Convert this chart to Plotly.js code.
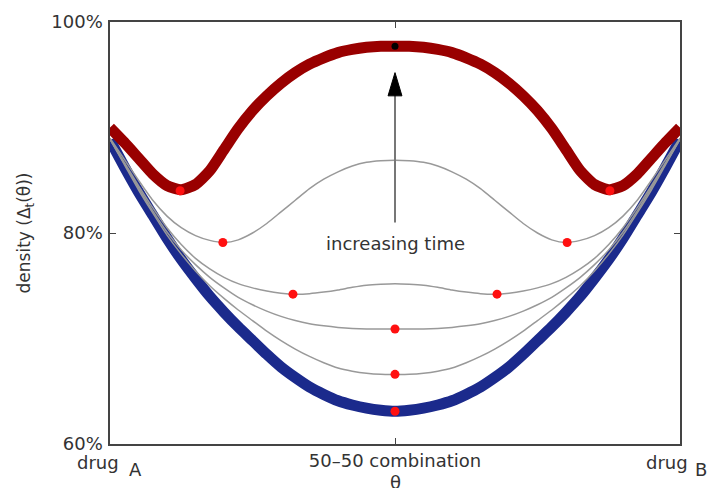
<!DOCTYPE html>
<html>
<head>
<meta charset="utf-8">
<script src="https://cdn.plot.ly/plotly-3.0.1.min.js"></script>
<style>html,body{margin:0;padding:0;background:#fff;}#chart{width:711px;height:488px;}</style>
</head>
<body>
<div id="chart"></div>
<script>
// theta positions (0 = drug A, 0.5 = 50-50 combination, 1 = drug B)
var theta = [0,0.025,0.05,0.075,0.1,0.125,0.15,0.175,0.2,0.225,0.25,0.275,0.3,0.325,0.35,0.375,0.4,0.425,0.45,0.475,0.5,
             0.525,0.55,0.575,0.6,0.625,0.65,0.675,0.7,0.725,0.75,0.775,0.8,0.825,0.85,0.875,0.9,0.925,0.95,0.975,1];

// density curves (%)
var blueInitial = [88.8,86.3,83.9,81.7,79.5,77.5,75.7,74.0,72.5,71.1,69.8,68.5,67.3,66.3,65.4,64.7,64.1,63.7,63.4,63.2,63.1,
                   63.2,63.4,63.7,64.1,64.7,65.4,66.3,67.3,68.5,69.8,71.1,72.5,74.0,75.7,77.5,79.5,81.7,83.9,86.3,88.8];
var gray4 = [88.9,86.5,84.1,81.9,79.8,78.0,76.4,75.0,73.8,72.7,71.7,70.7,69.8,69.0,68.3,67.7,67.2,66.9,66.7,66.6,66.6,
             66.6,66.7,66.9,67.2,67.7,68.3,69.0,69.8,70.7,71.7,72.7,73.8,75.0,76.4,78.0,79.8,81.9,84.1,86.5,88.9];
var gray3 = [88.9,86.6,84.3,82.1,80.1,78.4,77.0,75.8,74.8,73.9,73.2,72.6,72.1,71.7,71.4,71.2,71.05,70.95,70.9,70.9,70.9,
             70.9,70.9,70.95,71.05,71.2,71.4,71.7,72.1,72.6,73.2,73.9,74.8,75.8,77.0,78.4,80.1,82.1,84.3,86.6,88.9];
var gray2 = [88.9,86.7,84.5,82.4,80.5,78.9,77.6,76.6,75.8,75.2,74.8,74.5,74.3,74.2,74.25,74.4,74.6,74.85,75.05,75.15,75.2,
             75.15,75.05,74.85,74.6,74.4,74.25,74.2,74.3,74.5,74.8,75.2,75.8,76.6,77.6,78.9,80.5,82.4,84.5,86.7,88.9];
var gray1 = [89.0,87.0,85.0,83.1,81.6,80.5,79.75,79.3,79.1,79.35,80.0,80.9,82.0,83.1,84.2,85.1,85.8,86.35,86.7,86.85,86.9,
             86.85,86.7,86.35,85.8,85.1,84.2,83.1,82.0,80.9,80.0,79.35,79.1,79.3,79.75,80.5,81.6,83.1,85.0,87.0,89.0];
var redFinal = [90.0,88.6,87.1,85.6,84.5,84.1,84.6,85.9,87.9,89.9,91.6,93.0,94.2,95.2,96.0,96.6,97.1,97.4,97.6,97.7,97.7,
                97.7,97.6,97.4,97.1,96.6,96.0,95.2,94.2,93.0,91.6,89.9,87.9,85.9,84.6,84.1,84.5,85.6,87.1,88.6,90.0];

// minima markers (red) and final maximum (black)
var minTheta = [0.123,0.877,0.198,0.802,0.321,0.679,0.5,0.5,0.5];
var minDensity = [84.0,84.0,79.1,79.1,74.2,74.2,70.9,66.6,63.1];
var maxTheta = [0.5];
var maxDensity = [97.7];

// axis ticks
var yTicks = [60,80,100];
var yTickText = ['60%','80%','100%'];
var xTicks = [0.5];
var xTickText = ['50\u201350 combination'];

var FONT = 'DejaVu Sans, Liberation Sans, Arial, sans-serif';
var grayLine = {color:'#999', width:1.5, shape:'spline', smoothing:0.6};
var traces = [
  {x:theta, y:blueInitial, mode:'lines', line:{color:'#1b2a8c', width:11, shape:'spline', smoothing:0.6}, hoverinfo:'skip'},
  {x:theta, y:gray4, mode:'lines', line:grayLine, hoverinfo:'skip'},
  {x:theta, y:gray3, mode:'lines', line:grayLine, hoverinfo:'skip'},
  {x:theta, y:gray2, mode:'lines', line:grayLine, hoverinfo:'skip'},
  {x:theta, y:gray1, mode:'lines', line:grayLine, hoverinfo:'skip'},
  {x:theta, y:redFinal, mode:'lines', line:{color:'#990000', width:11, shape:'spline', smoothing:0.6}, hoverinfo:'skip'},
  {x:minTheta, y:minDensity, mode:'markers', marker:{color:'#ff1010', size:9}, hoverinfo:'skip'},
  {x:maxTheta, y:maxDensity, mode:'markers', marker:{color:'#000', size:7}, hoverinfo:'skip'}
];

var txtFont = {family:FONT, size:18, color:'#333'};
var layout = {
  width:711, height:488,
  margin:{l:110, r:31, t:22, b:44},
  paper_bgcolor:'#fff', plot_bgcolor:'#fff',
  showlegend:false,
  xaxis:{range:[0,1], tickvals:xTicks, ticktext:xTickText, ticks:'inside', ticklen:6, tickcolor:'#444',
         showline:true, linecolor:'#444', linewidth:1.6, mirror:'ticks', showgrid:false, zeroline:false,
         tickfont:txtFont, fixedrange:true},
  yaxis:{range:[60,100], tickvals:yTicks, ticktext:yTickText, ticks:'inside', ticklen:6, tickcolor:'#444',
         showline:true, linecolor:'#444', linewidth:1.6, mirror:'ticks', showgrid:false, zeroline:false,
         tickfont:txtFont, ticklabelstandoff:2,
         title:{text:'density (\u0394<sub>t</sub>(\u03b8))', font:{family:FONT, size:17, color:'#333'}, standoff:16},
         fixedrange:true},
  shapes:[
    {type:'line', xref:'x', yref:'y', x0:0.5, x1:0.5, y0:81.0, y1:93.2, line:{color:'#777', width:2}},
    {type:'path', xref:'x', yref:'y', path:'M0.4878,93.0 L0.5,95.2 L0.5122,93.0 Z', fillcolor:'#000', line:{color:'#000', width:1}}
  ],
  annotations:[
    {x:0.5, y:79.0, xref:'x', yref:'y', text:'increasing time', showarrow:false, font:txtFont},
    {x:0, y:0, xref:'x', yref:'paper', text:'drug', showarrow:false, xanchor:'right', yanchor:'middle', xshift:11, yshift:-18, font:txtFont},
    {x:0, y:0, xref:'x', yref:'paper', text:'A', showarrow:false, xanchor:'left', yanchor:'middle', xshift:17, yshift:-25, font:txtFont},
    {x:1, y:0, xref:'x', yref:'paper', text:'drug', showarrow:false, xanchor:'right', yanchor:'middle', xshift:10, yshift:-18, font:txtFont},
    {x:1, y:0, xref:'x', yref:'paper', text:'B', showarrow:false, xanchor:'left', yanchor:'middle', xshift:13, yshift:-25, font:txtFont},
    {x:0.5, y:0, xref:'x', yref:'paper', text:'\u03b8', showarrow:false, yanchor:'top', yshift:-26, font:txtFont}
  ]
};
Plotly.newPlot('chart', traces, layout, {displayModeBar:false, staticPlot:true});
</script>
</body>
</html>
